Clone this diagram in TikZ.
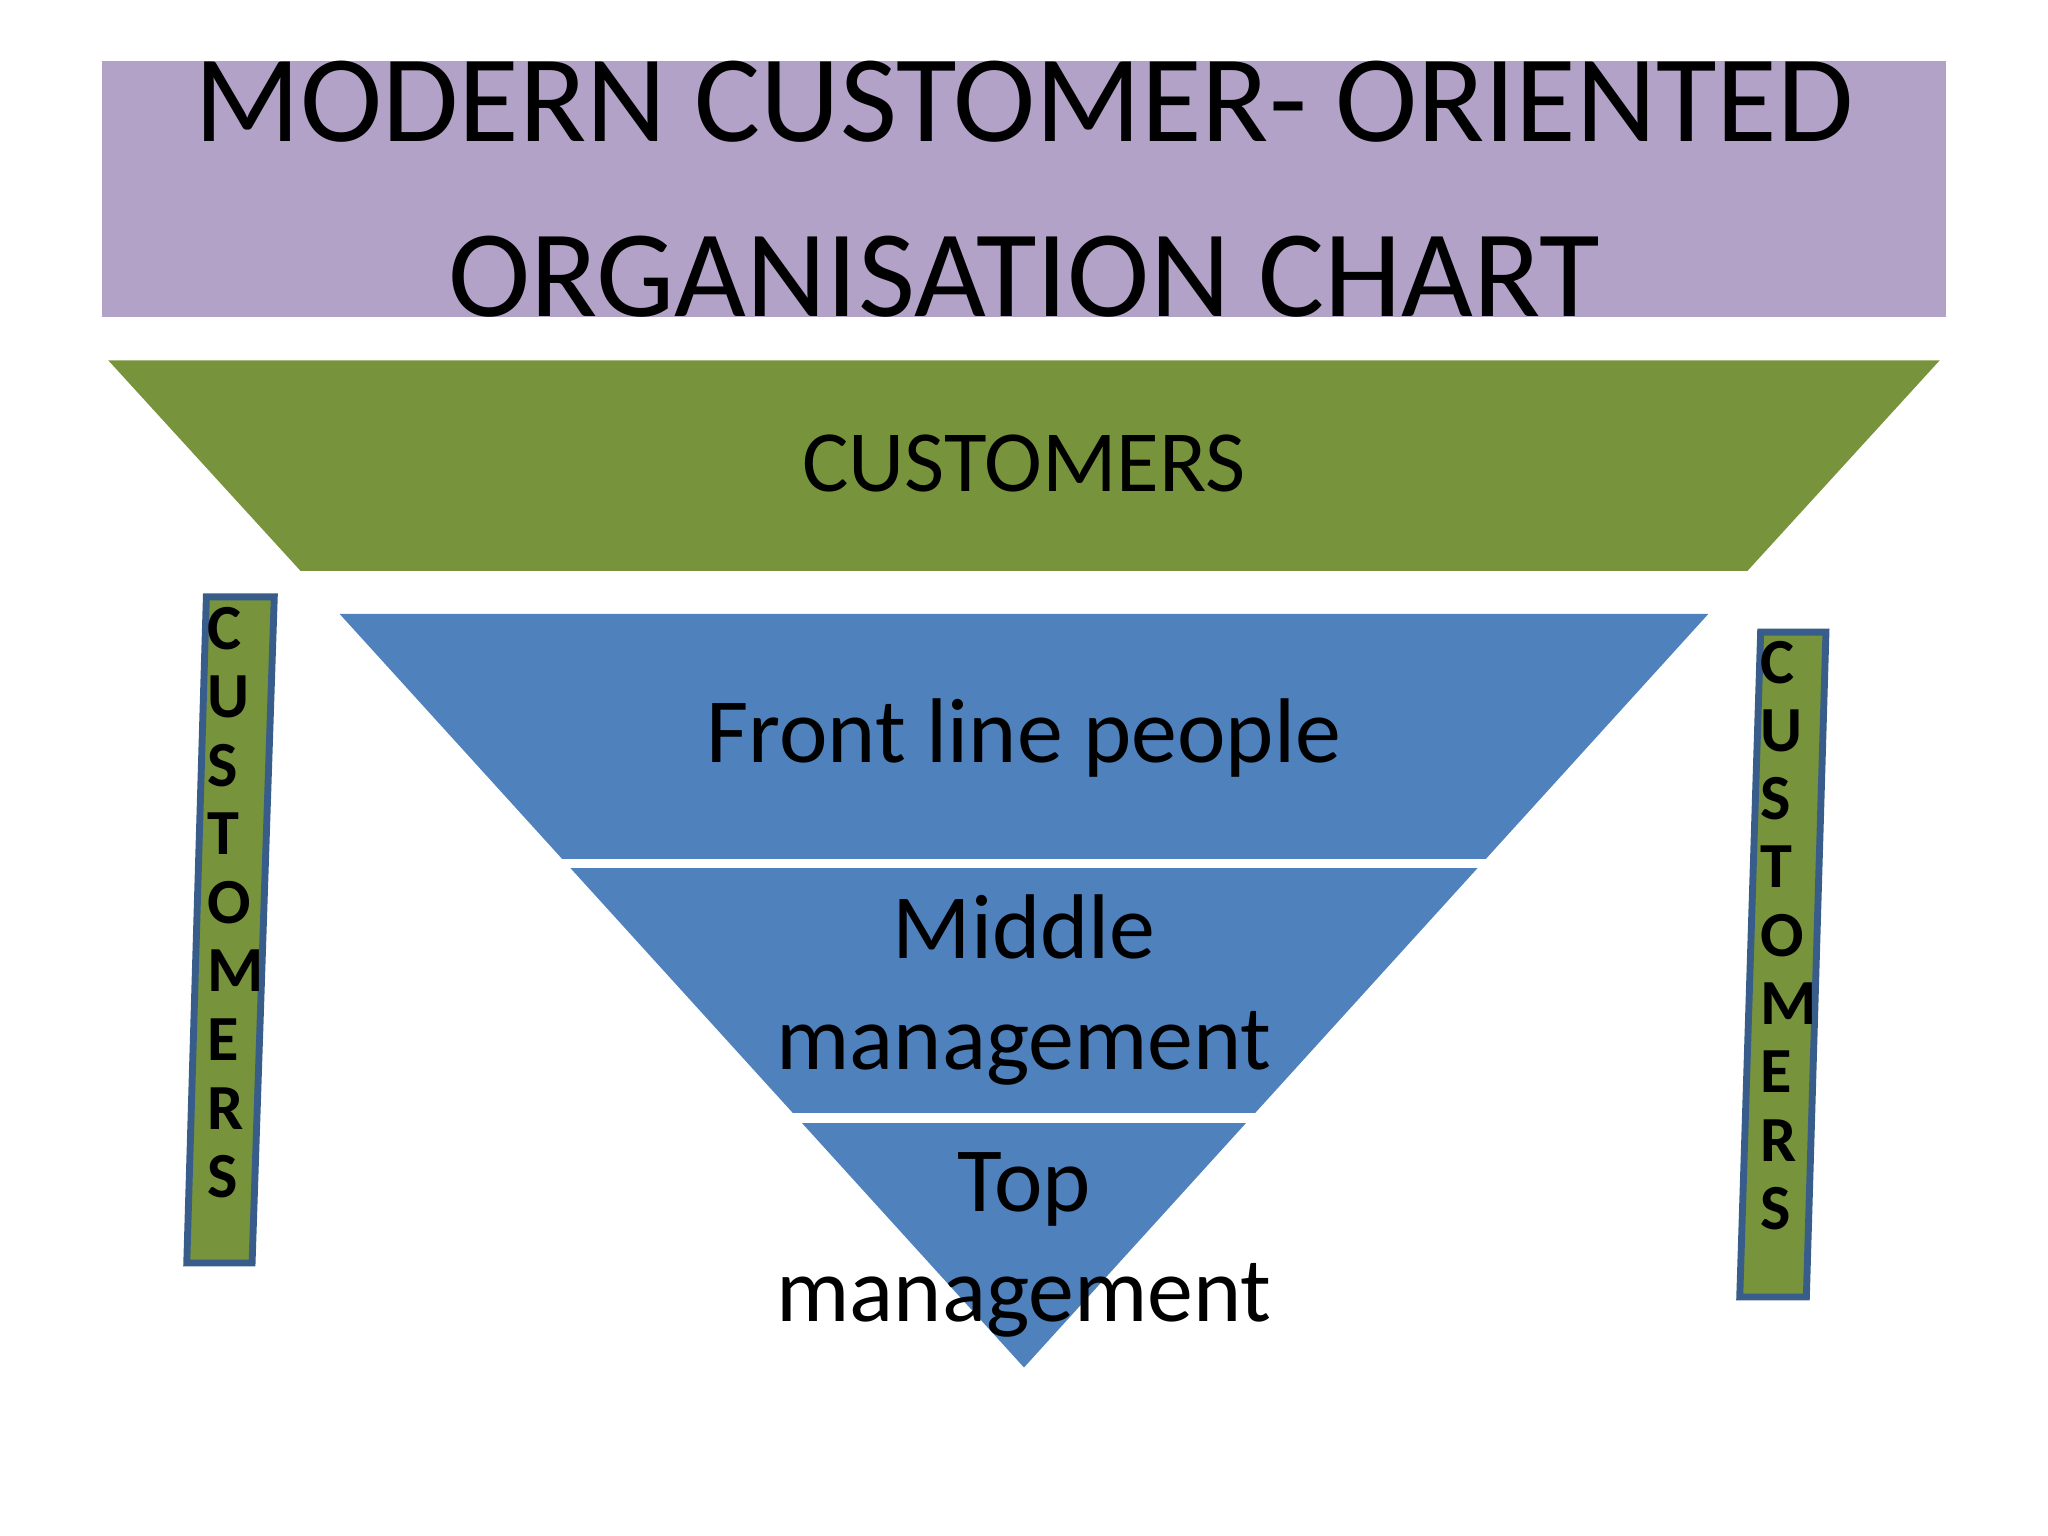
\documentclass[tikz,border=0pt]{standalone}
\usepackage{fontspec}
\setmainfont{Carlito}
\usetikzlibrary{positioning, calc}
\definecolor{titlepurple}{HTML}{B3A2C7}
\definecolor{custgreen}{HTML}{77933C}
\definecolor{pyrblue}{HTML}{4F81BD}
\definecolor{barline}{HTML}{385D8A}
\begin{document}
\begin{tikzpicture}
    [
        x=0.01cm, y=-0.01cm,
        band/.style={font=\fontsize{20}{24}\selectfont, align=center},
        letter/.style={font=\fontsize{14}{16}\selectfont\bfseries, inner sep=0pt},
        bar/.style={fill=custgreen, draw=barline, line width=1.5pt}
    ]
    \useasboundingbox (0,0) rectangle (1568,1176);
    % title
    \fill[titlepurple] (78,47) rectangle (1490,243);
    \node (title) [align=center, font=\fontsize{27}{38}\selectfont] at (784,145)
        {MODERN CUSTOMER- ORIENTED\\ORGANISATION CHART};
    % customers band
    \fill[custgreen] (83,276) -- (1485,276) -- (1338,437) -- (230,437) -- cycle;
    \node (cust) [band, font=\fontsize{19}{22}\selectfont] at (784,355) {CUSTOMERS};
    % inverted pyramid
    \fill[pyrblue] (260,470) -- (1308,470) -- (784,1047) -- cycle;
    \draw[white, line width=2pt] (420,661) -- (1148,661);
    \draw[white, line width=2pt] (598,856) -- (970,856);
    \node (front) [band] at (784,565) {Front line people};
    \node (middle) [band] at (784,758) {Middle\\management};
    \node (top) [band] at (784,953) {Top\\management};
    % side bars
    \draw[bar] (158,457) -- (210,457) -- (193,967) -- (143,967) -- cycle;
    \draw[bar] (1348,484) -- (1398,484) -- (1383,993) -- (1332,993) -- cycle;
    \foreach \ch [count=\i] in {C,U,S,T,O,M,E,R,S} {
        \node (l\i) [letter, anchor=west] at (158, {481+(\i-1)*52.5}) {\ch};
        \node (r\i) [letter, anchor=west] at (1347, {507+(\i-1)*52.3}) {\ch};
    }
\end{tikzpicture}
\end{document}
